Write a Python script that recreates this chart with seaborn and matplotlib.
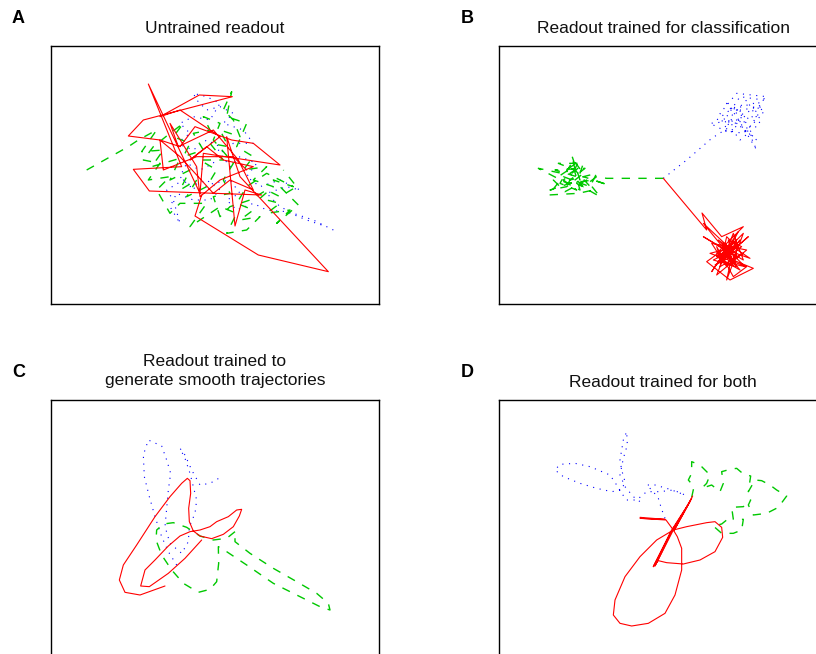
import matplotlib
matplotlib.use("Agg")
import matplotlib.pyplot as plt
import pandas as pd
import seaborn as sns

# ---------------- data (readout coordinates, arbitrary units) -------------
titles = ["Untrained readout",
          "Readout trained for classification",
          "Readout trained to\ngenerate smooth trajectories",
          "Readout trained for both"]
labels = ["A", "B", "C", "D"]

# Panel A
a_red = [(365,345),(345,408),(535,525),(745,575),(480,290),(440,170),(465,438),(495,330),(545,345),
         (208,333),(160,268),(305,260),(205,12),(360,340),(370,220),(600,255),(520,190),(455,180),
         (345,140),(300,200),(240,180),(145,168),(190,120),(457,50),(358,45),(240,110),(300,90),
         (420,170),(330,240),(380,200),(430,240),(520,260),(420,300),(360,350),(350,260),(270,130),
         (295,200),(400,150),(475,240),(520,330),(450,300),(400,340),(300,230),(240,180),(250,270),
         (350,230),(460,230),(500,270)]
a_green = [(20,270),(145,200),(175,180),(230,150),(185,215),(250,210),(215,260),(300,235),(270,300),
           (330,270),(300,330),(350,300),(320,350),(380,320),(410,270),(360,240),(430,240),(390,190),
           (445,200),(420,150),(480,170),(460,120),(430,90),(455,35),(440,110),(500,130),(470,200),
           (520,230),(490,270),(560,260),(520,300),(580,320),(540,355),(600,370),(560,400),(630,390),
           (590,430),(655,375),(620,340),(580,300),(640,320),(560,280),(500,320),(470,370),(520,390),
           (480,420),(540,410),(500,450),(440,460),(470,400),(420,380),(360,420),(330,440),(380,370),
           (300,370),(270,400),(230,330),(270,290),(205,300),(240,250),(190,240),(220,200),(270,160),
           (310,130),(280,170),(330,190),(310,230),(370,210),(340,160),(390,150),(370,110),(420,130),
           (400,180),(460,250),(430,300),(450,340),(400,350),(420,410),(450,380),(510,360),(560,330),
           (600,350),(650,320),(610,270)]
a_blue = [(760,450),(700,420),(640,400),(600,380),(560,340),(620,320),(660,330),(600,300),(540,320),
          (500,290),(530,250),(480,230),(450,260),(420,220),(460,190),(520,190),(490,150),(430,130),
          (460,100),(420,80),(380,90),(350,60),(340,40),(380,50),(420,70),(390,120),(340,110),(300,130),
          (330,160),(290,190),(340,210),(380,180),(420,200),(400,250),(360,270),(320,250),(300,290),
          (330,320),(380,300),(420,330),(390,360),(340,360),(290,340),(270,380),(300,430),(280,360),
          (260,330),(310,300),(350,330),(400,310),(450,300),(480,340),(440,360),(470,390),(520,370),
          (560,390),(620,395),(680,420),(740,440)]

# Panel B
b_red = [(400,295),(530,450),(516,399),(575,470),(640,440),(560,520),(670,565),(600,600),(530,545),
         (620,480),(590,560),(545,490),(650,510),(560,585),(610,460),(640,540),(520,470),(600,520),
         (630,480),(575,545),(560,500),(610,590),(650,560),(540,520),(620,500),(590,470),(570,560),
         (640,520),(600,540),(580,490),(620,560),(550,540),(610,510),(655,470),(585,530),(625,455),
         (545,575),(600,495),(660,535),(575,505),(615,545),(595,480),(635,500),(555,555),(605,530),
         (590,600),(620,520),(565,480),(645,560),(580,545),(600,505),(520,430),(610,540),(640,460),
         (585,515),(630,570),(560,530),(615,495),(600,520)]
b_green = [(400,295),(230,295),(200,290),(160,320),(120,280),(150,260),(100,300),(140,330),(90,310),
           (130,240),(160,280),(110,320),(60,330),(150,300),(125,225),(140,290),(75,270),(165,265),
           (120,300),(200,280),(180,320),(100,290),(55,345),(145,340),(190,330),(135,270),(85,250),
           (160,250),(140,310),(210,350),(170,300),(105,335),(70,300),(130,260),(150,330),(25,265),
           (95,280),(145,245),(115,310),(190,300),(235,315),(160,290)]
b_blue = [(400,295),(470,240),(545,175),(600,140),(640,100),(610,80),(660,120),(700,60),(630,50),
          (590,110),(650,150),(680,180),(620,130),(560,120),(600,90),(670,70),(700,100),(640,160),
          (580,150),(610,100),(650,60),(690,130),(630,180),(570,100),(620,40),(710,50),(660,90),
          (600,160),(540,130),(640,120),(680,210),(620,110),(590,70),(660,140),(700,80),(630,90)]

# Panel C
c_red = [(195,468),(120,495),(75,487),(58,450),(70,405),(110,345),(165,260),(210,200),(245,160),
         (262,145),(270,152),(272,190),(266,235),(268,275),(280,303),(300,318),(335,326),(370,313),
         (400,290),(418,258),(425,238),(410,240),(385,260),(350,275),(330,290),(300,300),(270,305),
         (240,318),(205,348),(165,390),(135,420),(122,468),(148,470),(205,430),(255,385),(305,330)]
c_green = [(405,305),(380,325),(340,330),(300,318),(260,292),(220,278),(190,282),(170,300),(168,330),
           (185,375),(215,420),(250,460),(295,487),(330,478),(350,455),(356,400),(355,350),(380,365),
           (440,405),(520,460),(600,500),(660,530),(690,540),(685,520),(650,490),(590,455),(520,415),
           (450,370),(405,335),(405,305)]
c_blue = [(230,405),(205,365),(185,320),(165,260),(148,200),(133,140),(130,75),(145,30),(185,48),
          (200,90),(212,130),(205,180),(200,235),(195,290),(210,340),(245,370),(265,335),(268,290),
          (285,250),(290,210),(280,170),(270,130),(255,85),(240,55),(255,75),(275,120),(300,165),
          (330,160),(365,140)]

# Panel D
d_red = [(300,292),(375,298),(300,295),(378,300),(400,330),(455,235),(402,332),(450,245),(398,328),
         (340,440),(395,335),(345,438),(400,330),(350,360),(300,410),(255,470),(225,540),(220,585),
         (240,610),(275,618),(325,610),(375,580),(405,525),(425,450),(425,385),(412,350),(400,330),
         (440,320),(500,308),(525,305),(545,322),(548,352),(525,395),(480,420),(430,432),(380,428),
         (355,422),(340,440),(392,335),(440,260),(458,228)]
d_green = [(455,232),(462,200),(445,180),(455,160),(455,125),(480,135),(510,165),(500,190),(485,205),
           (515,195),(540,215),(550,190),(545,155),(570,148),(590,145),(610,162),(632,168),(625,215),
           (645,180),(665,182),(690,195),(710,210),(740,228),(715,262),(680,280),(640,285),(625,255),
           (632,240),(610,260),(575,262),(580,298),(610,298),(605,330),(580,340),(545,340),(520,318),
           (545,312),(560,300)]
d_blue = [(375,295),(365,268),(355,235),(340,215),(320,195),(345,195),(390,208),(435,225),(400,210),
          (360,215),(320,215),(290,240),(260,240),(245,220),(230,195),(210,165),(150,140),(105,130),
          (60,133),(45,150),(70,170),(120,190),(170,205),(215,215),(245,210),(255,185),(245,150),
          (240,120),(245,90),(250,60),(260,35),(262,75),(250,115),(240,165),(255,200),(280,230),
          (300,245)]

panels = [
    {"blue": a_blue, "green": a_green, "red": a_red},
    {"blue": b_blue, "green": b_green, "red": b_red},
    {"blue": c_blue, "green": c_green, "red": c_red},
    {"blue": d_blue, "green": d_green, "red": d_red},
]
# visible data windows of each panel (x0, x1, y_top, y_bottom)
windows = [(-87, 897, -102, 672), (-93, 891, -102, 672),
           (-147, 837, -90, 684), (-123, 861, -60, 714)]

# ---------------- styling ----------------
sns.set_style("white")
plt.rcParams['font.family'] = ['Liberation Sans', 'DejaVu Sans']

styles = {
    "blue":  dict(color="#0000ff", linewidth=0.8, linestyle=(0, (1, 5))),
    "green": dict(color="#00c800", linewidth=1.0, linestyle=(0, (6, 6))),
    "red":   dict(color="#ff0000", linewidth=0.8, linestyle="-"),
}

W, H = 816, 654
fig = plt.figure(figsize=(W / 100, H / 100), dpi=100)
fig.patch.set_facecolor("white")

ax_boxes = [(51, 46), (499, 46), (51, 400), (499, 400)]   # left, top in px
AW, AH = 328, 258
label_pos = [(12, 23), (461, 23), (12, 377), (461, 377)]
title_pads = [9.4, 9.4, 10.8, 9.4]

for i, (left, top) in enumerate(ax_boxes):
    ax = fig.add_axes([left / W, (H - top - AH) / H, AW / W, AH / H])
    for name in ["blue", "green", "red"]:
        pts = panels[i][name]
        df = pd.DataFrame(pts, columns=["x", "y"])
        sns.lineplot(data=df, x="x", y="y", sort=False, estimator=None, ax=ax, **styles[name])
    x0, x1, yt, yb = windows[i]
    ax.set_xlim(x0, x1)
    ax.set_ylim(yb, yt)
    ax.set_xticks([])
    ax.set_yticks([])
    ax.set_xlabel("")
    ax.set_ylabel("")
    for s in ax.spines.values():
        s.set_visible(True)
        s.set_color("black")
        s.set_linewidth(1.0)
    ax.set_title(titles[i], fontsize=12.5, pad=title_pads[i], color="#111111",
                 linespacing=1.3)
    lx, ly = label_pos[i]
    fig.text(lx / W, 1 - ly / H, labels[i], fontsize=13, fontweight="bold",
             va="baseline", ha="left", color="black")

fig.savefig("out.png", dpi=100, facecolor="white")
